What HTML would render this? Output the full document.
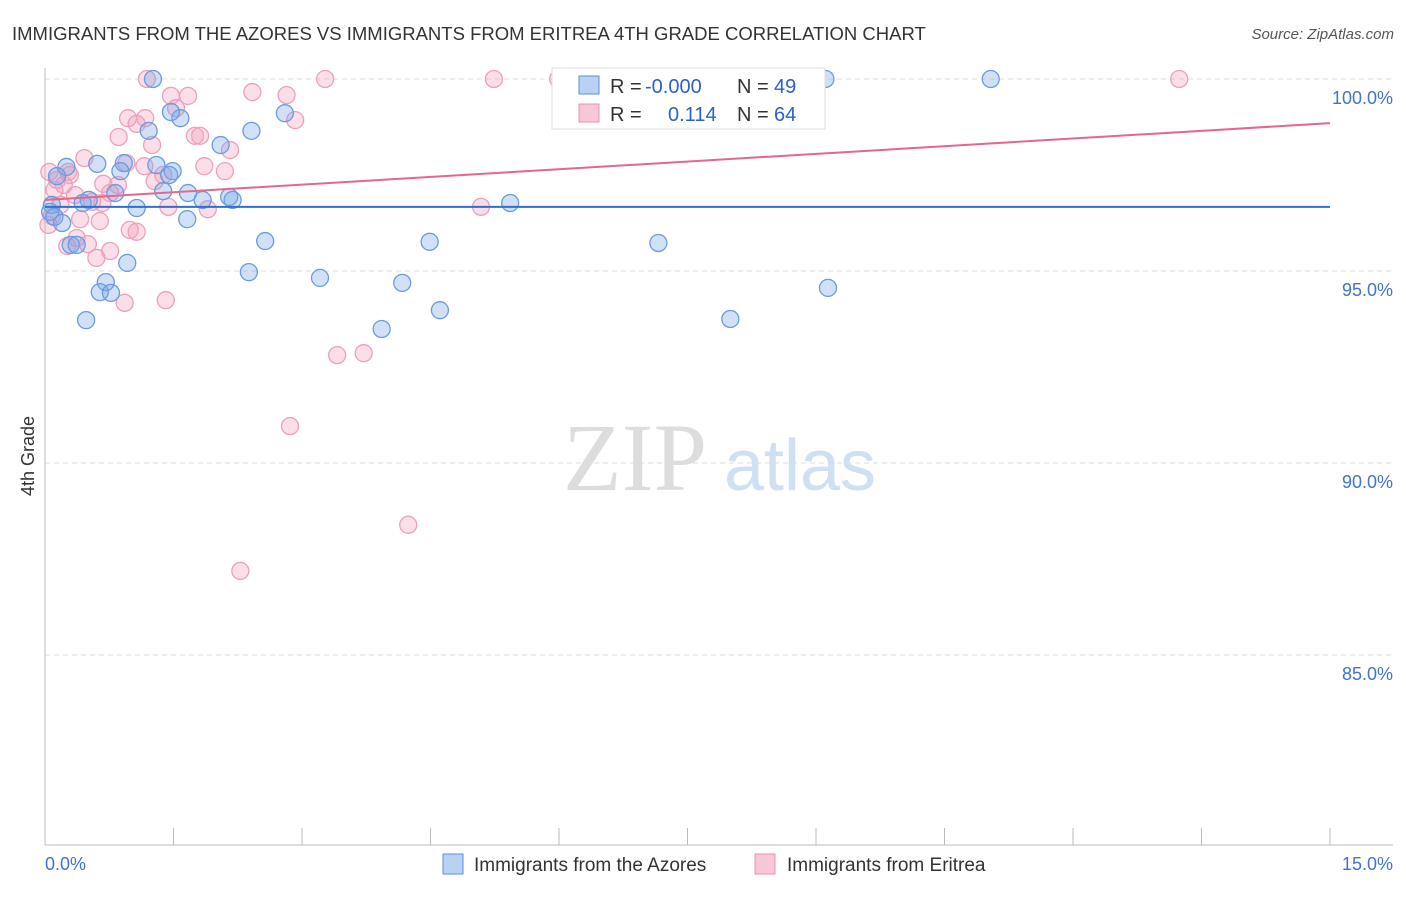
<!DOCTYPE html>
<html><head><meta charset="utf-8"><style>
body{margin:0;background:#fff;font-family:"Liberation Sans",sans-serif;}
</style></head><body>
<svg width="1406" height="892" xmlns="http://www.w3.org/2000/svg">
<text x="12" y="40" font-size="18.5" fill="#333">IMMIGRANTS FROM THE AZORES VS IMMIGRANTS FROM ERITREA 4TH GRADE CORRELATION CHART</text>
<text x="1394" y="39" font-size="15" fill="#555" font-style="italic" text-anchor="end">Source: ZipAtlas.com</text>
<g id="grid"></g>
<text x="635" y="490" font-size="96" fill="#ddd" font-family="Liberation Serif,serif" text-anchor="middle">ZIP</text>
<text x="800" y="490" font-size="72" fill="#cfe0f3" text-anchor="middle">atlas</text>
<text transform="translate(34,456) rotate(-90)" font-size="18" fill="#333" text-anchor="middle">4th Grade</text>
<g id="pts"></g>
<g id="lines"></g>
<g>
<rect x="552" y="68" width="273" height="61" fill="#fff" stroke="#ddd"/>
<rect x="579" y="76" width="20" height="18" fill="#b9d2f3" stroke="#5b8fd9"/>
<rect x="579" y="104" width="20" height="18" fill="#f9c6d6" stroke="#e891ad"/>
<text y="93" font-size="20" fill="#333"><tspan x="610">R =</tspan><tspan x="645" fill="#2a62c9">-0.000</tspan><tspan x="737">N =</tspan><tspan x="774" fill="#2a62c9">49</tspan></text>
<text y="121" font-size="20" fill="#333"><tspan x="610">R =</tspan><tspan x="668" fill="#2a62c9">0.114</tspan><tspan x="737">N =</tspan><tspan x="774" fill="#2a62c9">64</tspan></text>
</g>
<g>
<rect x="443" y="854" width="20" height="20" fill="#b9d2f3" stroke="#5b8fd9"/>
<text x="474" y="871" font-size="19" fill="#333">Immigrants from the Azores</text>
<rect x="755" y="854" width="20" height="20" fill="#f9c6d6" stroke="#e891ad"/>
<text x="787" y="871" font-size="19" fill="#333">Immigrants from Eritrea</text>
</g>
</svg>
<script>
const blueX=[1.26,9.11,11.04,1.58,1.47,1.21,2.41,2.80,2.05,0.25,0.61,0.92,1.30,1.49,0.88,1.45,0.14,1.38,1.67,0.82,2.15,2.19,1.84,0.51,0.44,1.07,0.08,0.06,0.11,0.20,1.66,5.43,2.57,4.49,7.16,0.30,0.37,0.96,2.38,3.21,4.17,0.71,0.64,0.77,9.14,4.61,0.48,3.93,8.00];
const blueY=[100,100,100,98.98,99.14,98.65,98.65,99.11,98.28,97.71,97.79,97.81,97.76,97.60,97.60,97.50,97.47,97.08,97.03,97.03,96.93,96.85,96.85,96.85,96.77,96.64,96.72,96.54,96.41,96.25,96.35,96.77,95.78,95.76,95.73,95.68,95.68,95.21,94.97,94.82,94.69,94.71,94.45,94.43,94.56,93.98,93.72,93.49,93.75];
const pinkX=[1.19,3.27,5.24,5.99,6.76,13.24,2.42,2.82,1.67,1.47,1.53,0.97,1.17,1.07,2.92,1.75,1.81,0.86,1.25,2.16,0.46,0.05,0.27,0.29,0.14,0.22,0.85,0.68,1.16,0.95,1.86,2.10,1.28,1.38,0.35,0.76,0.55,1.44,1.90,0.67,5.09,0.41,0.64,0.08,0.04,0.99,1.07,0.37,0.50,0.26,0.76,0.60,1.41,0.93,3.41,3.72,2.86,4.24,2.28,0.11,0.18];
const pinkY=[100,100,100,100,100,100,99.66,99.58,99.56,99.56,99.24,98.98,98.98,98.83,98.93,98.52,98.52,98.49,98.28,98.15,97.94,97.58,97.58,97.50,97.37,97.24,97.24,97.27,97.73,97.81,97.73,97.60,97.34,97.50,96.98,97.03,96.80,96.67,96.61,96.77,96.67,96.35,96.30,96.43,96.20,96.07,96.02,95.86,95.70,95.65,95.52,95.34,94.24,94.17,92.81,92.86,90.96,88.39,87.19,97.11,96.72];
const yTicks=[100,95,90,85];
const yTickLabels=["100.0%","95.0%","90.0%","85.0%"];
const blueTrend=[96.67,96.67];
const pinkTrend=[96.85,98.85];
const xMin=0,xMax=15;
const NS="http://www.w3.org/2000/svg";
const sx=v=>45+(v-xMin)/(xMax-xMin)*1285;
const sy=v=>79+(100-v)*38.4;
function mk(t,a,p){const e=document.createElementNS(NS,t);for(const k in a)e.setAttribute(k,a[k]);p.appendChild(e);return e;}
const grid=document.getElementById('grid');
yTicks.forEach((t,i)=>{
 const l=mk('line',{x1:45,x2:1393,y1:sy(t),y2:sy(t),stroke:'#ddd','stroke-dasharray':'5,4'},grid);
 
 
 const tx=mk('text',{x:1393,y:sy(t)+25,'font-size':18,fill:'#3f73cf','text-anchor':'end'},grid);
 tx.textContent=yTickLabels[i];
 
 
});
const ax=mk('line',{x1:45,x2:45,y1:68,y2:845,stroke:'#bbb'},grid);


const bx=mk('line',{x1:45,x2:1393,y1:845,y2:845,stroke:'#bbb'},grid);


for(let i=0;i<=10;i++){const t=mk('line',{x1:sx(i*1.5),x2:sx(i*1.5),y1:828,y2:845,stroke:'#bbb'},grid);
 
 }
const x0=mk('text',{x:45,y:870,'font-size':18,fill:'#3f73cf'},grid);x0.textContent='0.0%';


const x1=mk('text',{x:1393,y:870,'font-size':18,fill:'#3f73cf','text-anchor':'end'},grid);x1.textContent='15.0%';


const pts=document.getElementById('pts');
pinkX.forEach((x,i)=>{const c=mk('circle',{cx:sx(x),cy:sy(pinkY[i]),r:8.5,fill:'rgba(244,160,188,0.35)',stroke:'#eea0b9','stroke-width':1.3},pts);
 
 });
blueX.forEach((x,i)=>{const c=mk('circle',{cx:sx(x),cy:sy(blueY[i]),r:8.5,fill:'rgba(120,165,232,0.35)',stroke:'#6b9be0','stroke-width':1.3},pts);
 
 });
const lines=document.getElementById('lines');
const lb=mk('line',{x1:sx(0),x2:sx(15),y1:sy(blueTrend[0]),y2:sy(blueTrend[1]),stroke:'#2f6fd0','stroke-width':2},lines);


const lp=mk('line',{x1:sx(0),x2:sx(15),y1:sy(pinkTrend[0]),y2:sy(pinkTrend[1]),stroke:'#e5668f','stroke-width':2},lines);


</script>
</body></html>
